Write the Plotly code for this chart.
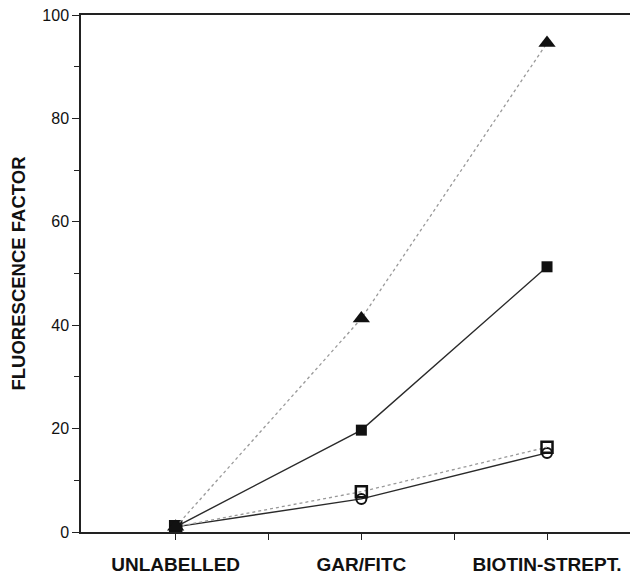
import plotly.graph_objects as go

categories = ["UNLABELLED", "GAR/FITC", "BIOTIN-STREPT."]
triangle_dotted = [1.0, 41.3, 94.6]
square_filled = [1.0, 19.7, 51.3]
square_open_dotted = [1.0, 7.8, 16.4]
circle_open = [1.0, 6.4, 15.3]
y_ticks = [0, 20, 40, 60, 80, 100]

x = list(range(len(categories)))

fig = go.Figure()
fig.add_trace(go.Scatter(x=x, y=circle_open, mode="lines+markers",
                         line=dict(color="#2a2a2a", width=1.4),
                         marker=dict(symbol="circle-open", size=10, color="#111", line=dict(width=2))))
fig.add_trace(go.Scatter(x=x, y=square_open_dotted, mode="lines+markers",
                         line=dict(color="#999", width=1.3, dash="dot"),
                         marker=dict(symbol="square-open", size=11, color="#111", line=dict(width=2.5))))
fig.add_trace(go.Scatter(x=x, y=square_filled, mode="lines+markers",
                         line=dict(color="#2a2a2a", width=1.4),
                         marker=dict(symbol="square", size=11, color="#111")))
fig.add_trace(go.Scatter(x=x, y=triangle_dotted, mode="lines+markers",
                         line=dict(color="#999", width=1.3, dash="dot"),
                         marker=dict(symbol="triangle-up", size=15, color="#111")))

fig.update_layout(
    width=630, height=567,
    margin=dict(l=73, r=0, t=7, b=43, autoexpand=False),
    plot_bgcolor="white", paper_bgcolor="white",
    showlegend=False,
    font=dict(family="Liberation Sans, Arial, sans-serif", color="#111"),
)
fig.update_xaxes(
    range=[-0.51, 2.49], tickvals=x, ticktext=["<b>%s</b>" % c for c in categories],
    tickfont=dict(size=19), ticks="outside", ticklen=6, tickcolor="#222",
    ticklabelstandoff=8, ticklabeloverflow="allow",
    showline=True, linecolor="#222", linewidth=1.5, mirror=True,
    showgrid=False, zeroline=False,
    minor=dict(tickvals=[0.5, 1.5], ticks="outside", ticklen=6, tickcolor="#222"),
)
fig.update_yaxes(
    range=[0, 100], tickvals=y_ticks, tickfont=dict(size=16),
    ticks="outside", ticklen=7, tickcolor="#222", ticklabeloverflow="allow",
    showline=True, linecolor="#222", linewidth=1.5,
    showgrid=False, zeroline=False,
    minor=dict(tickvals=[10, 30, 50, 70, 90], ticks="outside", ticklen=5, tickcolor="#222"),
    title=dict(text="<b>FLUORESCENCE FACTOR</b>", font=dict(size=18.5), standoff=14),
)
fig.write_html("out.html")
